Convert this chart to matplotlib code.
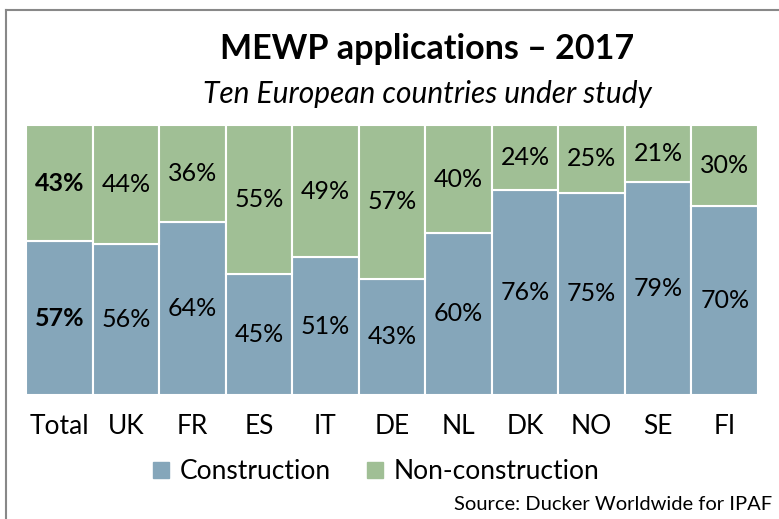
"""MEWP applications 2017 - stacked 100% bars."""
import matplotlib
matplotlib.use("Agg")
import matplotlib.pyplot as plt
import matplotlib.patches as mpatches
from matplotlib.lines import Line2D
import numpy as np

plt.rcParams["font.family"] = ["Lato", "DejaVu Sans"]

countries = ["Total", "UK", "FR", "ES", "IT", "DE", "NL", "DK", "NO", "SE", "FI"]
construction = [57, 56, 64, 45, 51, 43, 60, 76, 75, 79, 70]
non_construction = [43, 44, 36, 55, 49, 57, 40, 24, 25, 21, 30]

c_blue = "#85A6BA"
c_green = "#A0BF95"

fig = plt.figure(figsize=(7.79, 5.19), dpi=100)
ax = fig.add_axes([0.0334, 0.239, 0.9396, 0.52])

x = np.arange(len(countries))
ax.bar(x, construction, width=1.0, color=c_blue, edgecolor="white", linewidth=1.5)
ax.bar(x, non_construction, width=1.0, bottom=construction, color=c_green,
       edgecolor="white", linewidth=1.5)

for i, (c, n) in enumerate(zip(construction, non_construction)):
    weight = "bold" if i == 0 else "normal"
    ax.text(i, c / 2, f"{c}%", ha="center", va="center", fontsize=18, fontweight=weight)
    ax.text(i, c + n / 2, f"{n}%", ha="center", va="center", fontsize=18, fontweight=weight)

ax.set_xlim(-0.5, len(countries) - 0.5)
ax.set_ylim(0, 100)
ax.set_yticks([])
ax.set_xticks(x)
ax.set_xticklabels(countries, fontsize=19)
ax.tick_params(axis="x", length=0, pad=14)
for s in ax.spines.values():
    s.set_visible(False)

fig.text(0.548, 0.906, "MEWP applications \u2013 2017", ha="center", va="center",
         fontsize=24.5, fontweight="bold")
fig.text(0.549, 0.819, "Ten European countries under study", ha="center", va="center",
         fontsize=21.5, style="italic")

handles = [mpatches.Patch(color=c_blue, label="Construction"),
           mpatches.Patch(color=c_green, label="Non-construction")]
fig.legend(handles=handles, loc="center", bbox_to_anchor=(0.483, 0.091), ncol=2,
           frameon=False, fontsize=19, handlelength=0.6, handleheight=0.6,
           handletextpad=0.4, columnspacing=1.4)

fig.text(0.991, 0.027, "Source: Ducker Worldwide for IPAF", ha="right", va="center",
         fontsize=14.5)

# chart border (cropped on right/bottom)
fig.add_artist(Line2D([0.0075, 0.0075], [0, 0.981], color="#888888", linewidth=1.5))
fig.add_artist(Line2D([0.0075, 1.0], [0.981, 0.981], color="#888888", linewidth=1.5))

fig.savefig("out.png", dpi=100)
